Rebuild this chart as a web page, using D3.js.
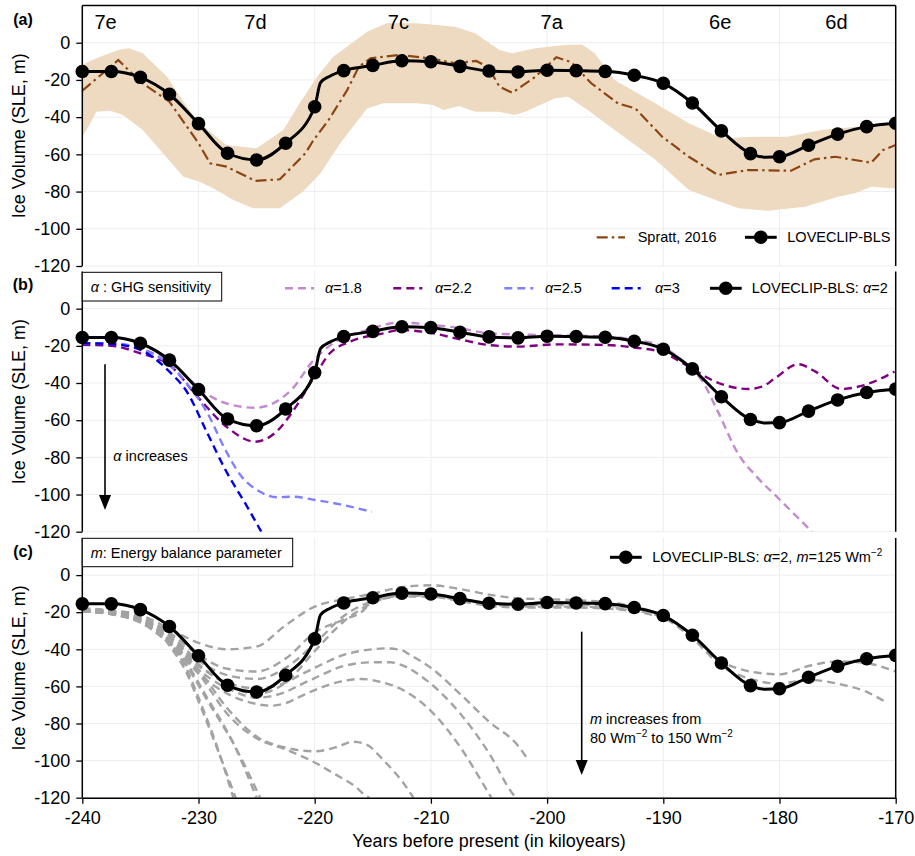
<!DOCTYPE html>
<html><head><meta charset="utf-8">
<script src="https://cdn.jsdelivr.net/npm/d3@7"></script>
<style>body{margin:0;background:#fff}svg{display:block}text{font-family:"Liberation Sans",Arial,sans-serif}</style>
</head><body><svg id="c" width="915" height="856"></svg>
<script>
// ---------------- DATA ----------------
const xTicks = [-240,-230,-220,-210,-200,-190,-180,-170];
const yTicks = [0,-20,-40,-60,-80,-100,-120];
const phaseLabels = ["7e","7d","7c","7a","6e","6d"];
const phaseX = [-238,-225.1,-212.8,-199.6,-185.1,-175.1];

// LOVECLIP-BLS (alpha=2, m=125)
const loveX = [-240,-237.5,-235,-232.5,-230,-227.5,-225,-222.5,-220,-219.5,-218.7,-217.5,-215,-212.5,-210,-207.5,-205,-202.5,-200,-197.5,-195,-192.5,-190,-187.5,-185,-182.5,-181.2,-180,-177.5,-175,-172.5,-170];
const loveY = [-15.5,-15.5,-18.6,-27.7,-43.5,-59.4,-63,-54,-34.4,-21.5,-18,-15,-12.2,-9.7,-10.2,-12.7,-15.2,-15.7,-14.8,-15,-15.4,-17.5,-21.8,-32.4,-47.4,-59.6,-61.5,-61.3,-55.1,-49.1,-45.1,-43.3];
const markerStep = 2.5;

// Spratt 2016
const sprattX = [-240,-236.9,-235,-232.5,-230,-229,-227.6,-225.1,-223,-220.8,-220.1,-218.8,-217.2,-216.2,-215.2,-212.7,-210.1,-207.9,-206.1,-205.1,-204.1,-203,-201,-199.2,-197.9,-196.2,-193.9,-192.4,-190.1,-187.8,-185.3,-182.7,-179,-177,-175.2,-172.1,-171.1,-170];
const sprattY = [-25.8,-9.3,-21,-31.7,-54,-64.8,-66.6,-74.3,-73.4,-59.4,-52.3,-41.5,-25.4,-12.9,-8.4,-6.6,-8.4,-11.1,-9.8,-12.9,-23.6,-26.9,-18.3,-7.8,-10.5,-21.8,-32.6,-35.3,-50.5,-61.3,-71.1,-68.4,-68.8,-62.7,-61.3,-64.5,-57.7,-55];
const sprattUpper = [[-240,-12],[-238.8,-8.4],[-236.9,-3.9],[-236,-3],[-234.8,-5.7],[-232.7,-18.3],[-231,-34.4],[-229.9,-43.3],[-227.6,-55],[-225,-56.7],[-222.7,-46.9],[-221.3,-32.6],[-219.8,-18.3],[-218.4,-7.5],[-217.2,-2.1],[-215.5,5.9],[-213.8,10.4],[-211.2,10.4],[-207.9,8.6],[-206.2,5.1],[-204.1,-3.9],[-203,-5.7],[-201,-3],[-198.5,-1.2],[-197,-0.9],[-195.9,-5.7],[-194.2,-20],[-190.7,-32.6],[-187.8,-43.3],[-185,-51.4],[-182.1,-50.5],[-179.3,-50.5],[-176.4,-46.9],[-173.5,-45.1],[-170,-44.2]];
const sprattLower = [[-240,-50.5],[-239.3,-43.3],[-238.8,-37.1],[-237.6,-36.5],[-236.5,-38.8],[-234.8,-46.9],[-233.3,-57.7],[-231.3,-72],[-229.9,-74.7],[-228.7,-78.3],[-227,-84.5],[-225.3,-89],[-223,-89],[-221,-80],[-219.5,-70.2],[-217.8,-54],[-216.7,-45.1],[-215.5,-35.3],[-214.1,-32.6],[-211.2,-32.6],[-209.8,-33.5],[-208.9,-36.2],[-207.6,-34],[-206.2,-37.1],[-204.2,-37.1],[-202.8,-38.8],[-201.9,-37.1],[-199.3,-29.9],[-198.2,-29],[-196.5,-36.2],[-194.2,-46.9],[-190.7,-62.8],[-187.8,-79.2],[-185.5,-84.5],[-183.5,-89],[-181,-90.3],[-177.8,-88.1],[-174.9,-82.7],[-173.5,-80.9],[-172.1,-77.4],[-170,-78.3]];

// alpha sensitivity runs (panel b)
const alpha18 = [[-240,-18.6],[-237.5,-19],[-235,-21.5],[-232.5,-29],[-231,-37],[-229,-47],[-227.3,-51.5],[-225.1,-53.3],[-223.3,-50],[-221.9,-42.9],[-220.2,-28.5],[-218.4,-18.6],[-215.5,-11.5],[-212.7,-7.5],[-209.8,-8.8],[-207.5,-10.5],[-205,-13.3],[-200.2,-14.2],[-195,-15],[-192.4,-16.8],[-190.1,-20.4],[-187.8,-31.2],[-186.7,-38.4],[-185.3,-55.4],[-183.5,-78.7],[-182.1,-89.5],[-180.1,-102],[-177.2,-120]];
const alpha22 = [[-240,-19.5],[-237.5,-20],[-235,-24],[-232.5,-30.3],[-230,-48],[-227.5,-64],[-225.1,-71.6],[-223.3,-66.2],[-221.9,-55.4],[-220.2,-38.4],[-218.7,-24],[-217,-17.8],[-214.1,-13.3],[-212.7,-11.5],[-210.1,-12.9],[-207.5,-16.5],[-205.1,-19.5],[-202.5,-20.4],[-199.3,-19.2],[-195,-19.5],[-192.4,-21],[-190.1,-23.5],[-187.8,-31.2],[-185.5,-39.3],[-182.7,-43.2],[-181.5,-42],[-180.4,-37.5],[-178.4,-29.9],[-176.9,-33.9],[-174.7,-43.2],[-172.7,-41.1],[-170.1,-33.9]];
const alpha25 = [[-240,-18.6],[-237.5,-18.6],[-235,-21.3],[-232.5,-30.3],[-231,-40.2],[-229.3,-55.4],[-227.6,-77],[-226.4,-89.5],[-224.7,-98.5],[-223.3,-101.5],[-221.9,-101.2],[-219.9,-103],[-217.8,-105.3],[-215.1,-109.3]];
const alpha30 = [[-240,-18.6],[-237.5,-19],[-235,-22.2],[-232.5,-33.9],[-231,-44.7],[-229.3,-66.2],[-227.6,-87.7],[-225.9,-105.6],[-224.6,-120]];
const alphaNames = ["α=1.8","α=2.2","α=2.5","α=3"];
const alphaColors = ["#c48ad0","#800080","#8080ff","#0000e6"];

// m (energy balance) runs (panel c)
const mRuns = [
 [[-240,-18],[-237.5,-19],[-235,-21.5],[-232.5,-29],[-230,-36.5],[-227.5,-40],[-225,-38.5],[-222.5,-27],[-220,-17],[-217.5,-13],[-215,-10],[-212.5,-6.5],[-210,-5.5],[-207.5,-7.5],[-205,-10.5],[-202.5,-12.5],[-200,-13],[-197.5,-13.5],[-195,-14.5],[-192.5,-17],[-190,-22],[-187.5,-34],[-185,-46.5],[-182.5,-52],[-180,-53.5],[-177.5,-49],[-175,-46.5],[-172.5,-47.5],[-170,-52]],
 [[-240,-18.5],[-237.5,-19.5],[-235,-22.5],[-232.5,-31],[-230,-43],[-227.5,-50.5],[-225,-52],[-222.5,-45],[-220,-31],[-217.5,-24],[-216,-20],[-215,-14.5],[-212.5,-11.5],[-210,-11.5],[-207.5,-13.5],[-205,-15.5],[-202.5,-17],[-200,-17],[-197.5,-17],[-195,-17.5],[-192.5,-19],[-190,-23],[-187.5,-34],[-185,-49],[-182.5,-56],[-180,-58.5],[-177.5,-56.5],[-175,-58.5],[-172.5,-63],[-170.7,-69]],
 [[-240,-18.5],[-237.5,-19.5],[-235,-23],[-232.5,-32],[-230,-46],[-227.5,-54],[-225,-56],[-222.5,-50],[-220,-37],[-217.5,-22],[-215,-14],[-212.5,-11],[-210,-11],[-207.5,-13],[-205,-15],[-202.5,-16],[-200,-16],[-197.5,-16],[-195,-16.5],[-192.5,-18],[-190,-22],[-187.5,-32]],
 [[-240,-19],[-237.5,-20],[-235,-23.5],[-232.5,-33],[-230,-48],[-227.5,-59],[-225,-64],[-222.5,-58],[-220,-41],[-217.5,-25],[-215,-15],[-212.5,-11],[-210,-11.5],[-207.5,-14],[-205,-16.5],[-202.5,-17.5],[-200,-17.5],[-197.5,-17.5],[-195,-18],[-192.5,-19.5],[-190,-23]],
 [[-240,-19],[-237.5,-20],[-235,-24],[-232.5,-34],[-230,-49],[-227.5,-58],[-225,-61],[-222.5,-58],[-221.3,-54],[-220,-50],[-217.5,-43],[-215,-40],[-214,-39.5],[-212.5,-40.5],[-211.8,-43],[-210,-50],[-207.5,-64],[-205,-79],[-202.5,-92],[-201.8,-98]],
 [[-240,-19],[-237.5,-20.5],[-235,-24.5],[-232.5,-35],[-230,-51],[-227.5,-61],[-225,-66],[-222.5,-63],[-221.3,-59.3],[-220,-55.5],[-217.5,-49],[-215,-47],[-213.5,-47],[-212.5,-48.5],[-210.4,-56.6],[-207.5,-74.5],[-205,-96],[-203,-117.6],[-202.7,-120]],
 [[-240,-19.5],[-237.5,-21],[-235,-25],[-232.5,-36],[-230,-53],[-227.5,-64],[-225,-69.5],[-223.8,-70.4],[-222.5,-69],[-221.3,-65.6],[-220,-62],[-217.5,-57],[-216,-56],[-214.4,-57.5],[-212.7,-61],[-209.8,-74.5],[-207.5,-92.5],[-205.2,-115.8],[-204.8,-120]],
 [[-240,-19.5],[-237.5,-21],[-235,-25.5],[-232.5,-36],[-230,-51],[-227.5,-72],[-225,-87],[-222.5,-93],[-220,-95],[-218,-92.5],[-216.7,-89.8],[-215.5,-91.5],[-214.1,-99.7],[-212.5,-111],[-211.5,-120]],
 [[-240,-19.5],[-237.5,-21],[-235,-25.5],[-232.5,-37],[-230,-53],[-227.5,-75],[-225,-88],[-222.5,-94],[-220,-101],[-218.4,-106.8],[-216.5,-114],[-215.5,-119.4],[-215.3,-120]],
 [[-240,-19],[-237.5,-20.5],[-235,-24],[-233.6,-28],[-232.5,-36],[-231,-51],[-230,-66],[-228.4,-92.5],[-227,-120]],
 [[-240,-19],[-237.5,-20.5],[-235,-24.5],[-233.5,-30],[-232.5,-38],[-231,-53],[-230,-68],[-228.3,-95],[-226.8,-120]],
 [[-240,-19.5],[-237.5,-21],[-235,-24.5],[-232.5,-35],[-231,-47.6],[-229.3,-65.6],[-227,-90.7],[-225,-120]],
 [[-240,-19.5],[-237.5,-21],[-235,-25],[-232.5,-36],[-231,-49],[-229.2,-68],[-226.8,-93],[-224.7,-120]]
];

// ---------------- LAYOUT ----------------
const svg = d3.select("#c");
const L = 82.3, R = 895.7;
const panels = [{top:5.5,bottom:266,label:"(a)",lab:25},{top:271.5,bottom:531.7,label:"(b)",lab:290},{top:538,bottom:797.7,label:"(c)",lab:557}];
const x = d3.scaleLinear().domain([-240,-170]).range([L,R]);
const FONT = '"Liberation Sans",Arial,sans-serif';

panels.forEach((p,i)=>{
  p.y = d3.scaleLinear().domain([-120,20]).range([p.bottom,p.top]);
  const g = svg.append("g");
  p.g = g;
  // clip
  svg.append("clipPath").attr("id","clip"+i).append("rect")
    .attr("x",L-12).attr("y",p.top).attr("width",R-L+12).attr("height",p.bottom-p.top);
  svg.append("clipPath").attr("id","clipS"+i).append("rect")
    .attr("x",L).attr("y",p.top).attr("width",R-L).attr("height",p.bottom-p.top);
  // grid
  g.append("g").selectAll("line").data(xTicks.slice(1,-1)).join("line")
    .attr("x1",d=>x(d)).attr("x2",d=>x(d)).attr("y1",p.top).attr("y2",p.bottom)
    .attr("stroke","#ededed").attr("stroke-width",1);
  g.append("g").selectAll("line").data(yTicks).join("line")
    .attr("x1",L).attr("x2",R).attr("y1",d=>p.y(d)).attr("y2",d=>p.y(d))
    .attr("stroke","#ededed").attr("stroke-width",1);
  p.plot = g.append("g").attr("clip-path",`url(#clipS${i})`);
  p.plotM = g.append("g").attr("clip-path",`url(#clip${i})`);
  // left axis
  const ax = g.append("g").attr("transform",`translate(${L},0)`)
    .call(d3.axisLeft(p.y).tickValues(yTicks).tickFormat(d=>String(d)).tickSize(6).tickSizeOuter(0).tickPadding(6));
  ax.select(".domain").remove();
  ax.attr("font-size",18).attr("font-family",FONT);
  ax.selectAll(".tick line").attr("stroke","#000").attr("stroke-width",1.3);
  ax.selectAll(".tick text").attr("fill","#000");
  g.append("line").attr("x1",L).attr("x2",L).attr("y1",p.top).attr("y2",p.bottom).attr("stroke","#000").attr("stroke-width",1.5);
  g.append("line").attr("x1",R).attr("x2",R).attr("y1",p.top).attr("y2",p.bottom).attr("stroke","#000").attr("stroke-width",1.5);
  // y label
  g.append("text").attr("transform",`translate(25,${(p.top+p.bottom)/2}) rotate(-90)`)
    .attr("text-anchor","middle").attr("font-size",18).text("Ice Volume (SLE, m)");
  // panel label
  g.append("text").attr("x",23).attr("y",p.lab).attr("text-anchor","middle")
    .attr("font-size",16).attr("font-weight","bold").text(p.label);
});
// top spine of (a)
svg.append("line").attr("x1",L).attr("x2",R).attr("y1",panels[0].top).attr("y2",panels[0].top).attr("stroke","#000").attr("stroke-width",1.5);
// bottom axis of (c)
const pc = panels[2];
const bx = svg.append("g").attr("transform",`translate(0,${pc.bottom})`)
  .call(d3.axisBottom(x).tickValues(xTicks).tickFormat(d=>String(d)).tickSize(6).tickSizeOuter(0).tickPadding(8));
bx.select(".domain").attr("stroke","#000").attr("stroke-width",1.5);
bx.attr("font-size",18).attr("font-family",FONT);
bx.selectAll(".tick line").attr("stroke","#000").attr("stroke-width",1.3);
bx.selectAll(".tick text").attr("fill","#000");
svg.append("text").attr("x",(L+R)/2).attr("y",847).attr("text-anchor","middle").attr("font-size",18)
  .text("Years before present (in kiloyears)");

const lovePts = loveX.map((d,i)=>[d,loveY[i]]);
const markerPts = lovePts.filter(d=>Math.abs(d[0]/markerStep-Math.round(d[0]/markerStep))<1e-6);

function drawLove(p){
  const line = d3.line().x(d=>x(d[0])).y(d=>p.y(d[1])).curve(d3.curveMonotoneX);
  p.plot.append("path").attr("d",line(lovePts)).attr("fill","none").attr("stroke","#000").attr("stroke-width",3);
  p.plotM.append("g").selectAll("circle").data(markerPts).join("circle")
    .attr("cx",d=>x(d[0])).attr("cy",d=>p.y(d[1])).attr("r",6.8).attr("fill","#000");
}
function legendLove(xs,ys,label){
  svg.append("line").attr("x1",xs).attr("x2",xs+31.7).attr("y1",ys).attr("y2",ys).attr("stroke","#000").attr("stroke-width",3);
  svg.append("circle").attr("cx",xs+15.8).attr("cy",ys).attr("r",6.8).attr("fill","#000");
}

// ---------- Panel (a) ----------
{
  const p = panels[0];
  const bandPts = sprattUpper.concat(sprattLower.slice().reverse());
  const poly = d3.line().x(d=>x(d[0])).y(d=>p.y(d[1])).curve(d3.curveLinearClosed);
  p.plot.append("path").attr("d",poly(bandPts)).attr("fill","rgb(238,218,192)").attr("stroke","none");
  const sl = d3.line().x(d=>x(d[0])).y(d=>p.y(d[1]));
  p.plot.append("path").attr("d",sl(sprattX.map((d,i)=>[d,sprattY[i]])))
    .attr("fill","none").attr("stroke","#8b4513").attr("stroke-width",2.2).attr("stroke-dasharray","11,4,2.5,4");
  drawLove(p);
  svg.append("g").selectAll("text").data(phaseLabels).join("text")
    .attr("x",(d,i)=>x(phaseX[i])).attr("y",29).attr("text-anchor","middle").attr("font-size",20).text(d=>d);
  // legend
  const ly = 237.3;
  svg.append("line").attr("x1",596.7).attr("x2",625).attr("y1",ly).attr("y2",ly)
    .attr("stroke","#8b4513").attr("stroke-width",2.2).attr("stroke-dasharray","11,4,2.5,4");
  svg.append("text").attr("x",637.7).attr("y",ly+5).attr("font-size",14.5).text("Spratt, 2016");
  legendLove(745,ly);
  svg.append("text").attr("x",787.3).attr("y",ly+5).attr("font-size",14.5).text("LOVECLIP-BLS");
}

// ---------- Panel (b) ----------
{
  const p = panels[1];
  const line = d3.line().x(d=>x(d[0])).y(d=>p.y(d[1])).curve(d3.curveMonotoneX);
  [alpha18,alpha22,alpha25,alpha30].forEach((run,k)=>{
    p.plot.append("path").attr("d",line(run)).attr("fill","none")
      .attr("stroke",alphaColors[k]).attr("stroke-width",2.4).attr("stroke-dasharray","8,5");
  });
  drawLove(p);
  // box
  svg.append("rect").attr("x",L).attr("y",272.3).attr("width",221.7-L).attr("height",301-272.3)
    .attr("fill","#fff").attr("stroke","#000").attr("stroke-width",1);
  const t = svg.append("text").attr("x",90.7).attr("y",291.5).attr("font-size",14.5);
  t.append("tspan").attr("font-style","italic").text("α");
  t.append("tspan").text(" : GHG sensitivity");
  // legend
  const ly = 288.3;
  const lx = [285,393.3,504.3,611.7];
  const tx = [325,435,545,655];
  alphaNames.forEach((n,k)=>{
    svg.append("line").attr("x1",lx[k]).attr("x2",lx[k]+29).attr("y1",ly).attr("y2",ly)
      .attr("stroke",alphaColors[k]).attr("stroke-width",2.4).attr("stroke-dasharray","8,5");
    const tt = svg.append("text").attr("x",tx[k]).attr("y",ly+5).attr("font-size",14.5);
    tt.append("tspan").attr("font-style","italic").text("α");
    tt.append("tspan").text(n.slice(1));
  });
  legendLove(710,ly);
  const tl = svg.append("text").attr("x",751.7).attr("y",ly+5).attr("font-size",14.5);
  tl.append("tspan").text("LOVECLIP-BLS: ");
  tl.append("tspan").attr("font-style","italic").text("α");
  tl.append("tspan").text("=2");
  // arrow
  svg.append("line").attr("x1",105).attr("x2",105).attr("y1",364.3).attr("y2",497).attr("stroke","#000").attr("stroke-width",1.6);
  svg.append("path").attr("d","M99,495L111,495L105,510Z").attr("fill","#000");
  const ta = svg.append("text").attr("x",113.3).attr("y",461).attr("font-size",14.5);
  ta.append("tspan").attr("font-style","italic").text("α");
  ta.append("tspan").text(" increases");
}

// ---------- Panel (c) ----------
{
  const p = panels[2];
  const line = d3.line().x(d=>x(d[0])).y(d=>p.y(d[1])).curve(d3.curveMonotoneX);
  mRuns.forEach(run=>{
    p.plot.append("path").attr("d",line(run)).attr("fill","none")
      .attr("stroke","#a3a3a3").attr("stroke-width",2.4).attr("stroke-dasharray","8,5");
  });
  drawLove(p);
  svg.append("rect").attr("x",L).attr("y",538.3).attr("width",292.7-L).attr("height",566.7-538.3)
    .attr("fill","#fff").attr("stroke","#000").attr("stroke-width",1);
  const t = svg.append("text").attr("x",90.7).attr("y",557.5).attr("font-size",14.5);
  t.append("tspan").attr("font-style","italic").text("m");
  t.append("tspan").text(": Energy balance parameter");
  const ly = 557.3;
  legendLove(610,ly);
  const tl = svg.append("text").attr("x",652.3).attr("y",ly+5).attr("font-size",14.5);
  tl.append("tspan").text("LOVECLIP-BLS: ");
  tl.append("tspan").attr("font-style","italic").text("α");
  tl.append("tspan").text("=2, ");
  tl.append("tspan").attr("font-style","italic").text("m");
  tl.append("tspan").text("=125 Wm");
  tl.append("tspan").attr("font-size",10).attr("dy",-6).text("−2");
  // arrow
  svg.append("line").attr("x1",581.7).attr("x2",581.7).attr("y1",631.7).attr("y2",762).attr("stroke","#000").attr("stroke-width",1.6);
  svg.append("path").attr("d","M575.7,760L587.7,760L581.7,775Z").attr("fill","#000");
  const t1 = svg.append("text").attr("x",590).attr("y",724.3).attr("font-size",14.5);
  t1.append("tspan").attr("font-style","italic").text("m");
  t1.append("tspan").text(" increases from");
  const t2 = svg.append("text").attr("x",590).attr("y",743.3).attr("font-size",14.5);
  t2.append("tspan").text("80 Wm");
  t2.append("tspan").attr("font-size",10).attr("dy",-6).text("−2");
  t2.append("tspan").attr("dy",6).text(" to 150 Wm");
  t2.append("tspan").attr("font-size",10).attr("dy",-6).text("−2");
}
</script></body></html>
